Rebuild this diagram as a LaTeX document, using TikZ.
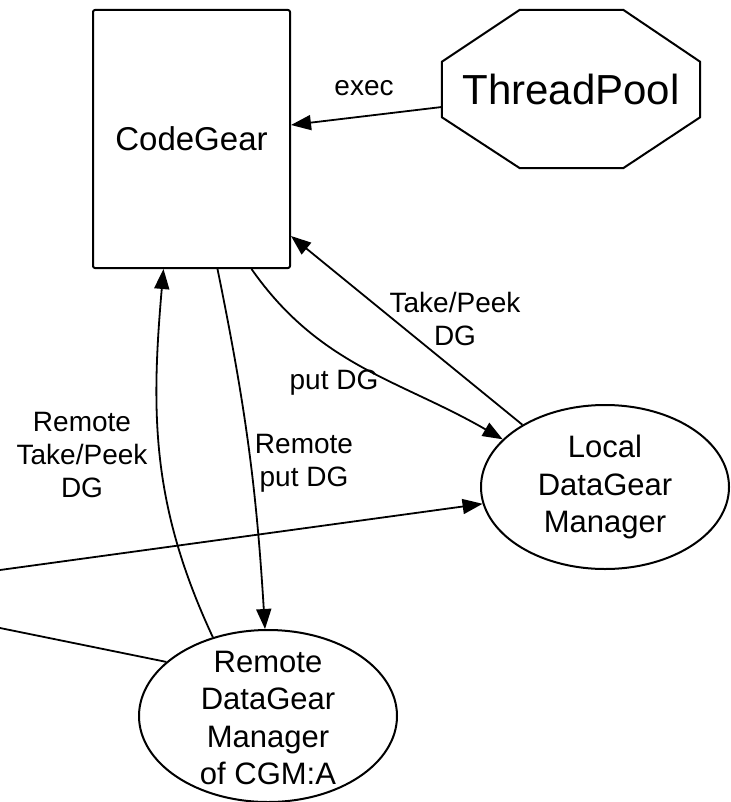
\documentclass[tikz,border=0pt]{standalone}
\usepackage{fontspec}
\setmainfont{Liberation Sans}
\usetikzlibrary{arrows.meta,shapes.geometric}
\begin{document}
\begin{tikzpicture}[x=1pt,y=-1pt,
  shapeline/.style={draw=black,line width=2pt,line join=round},
  conn/.style={draw=black,line width=1.8pt},
  arr/.style={conn,-{Triangle[length=20pt,width=15pt]}},
  lbl/.style={font=\fontsize{28}{33}\selectfont,align=center,inner sep=0pt},
  elltext/.style={font=\fontsize{31}{37.5}\selectfont,align=center,inner sep=0pt},
  ell/.style={shapeline,ellipse,inner sep=0pt}]
\useasboundingbox (0,0) rectangle (730,802);
% nodes
\node[shapeline,rounded corners=2pt,minimum width=197pt,minimum height=258pt,inner sep=0pt,
  font=\fontsize{33}{40}\selectfont] (cg) at (191.5,139) {CodeGear};
\node[minimum width=258pt,minimum height=158pt,inner sep=0pt,
  font=\fontsize{42}{50}\selectfont] (tp) at (571,89) {ThreadPool};
\draw[shapeline] ([xshift=78pt]tp.north west) -- ([xshift=-77pt]tp.north east)
  -- ([yshift=-52pt]tp.north east) -- ([yshift=51pt]tp.south east)
  -- ([xshift=-77pt]tp.south east) -- ([xshift=78pt]tp.south west)
  -- ([yshift=51pt]tp.south west) -- ([yshift=-52pt]tp.north west) -- cycle;
\node[ell,minimum width=248pt,minimum height=164pt] (ldm) at (605,487) {};
\node[elltext] (ldmtext) at (ldm.center) {Local\\DataGear\\Manager};
\node[ell,minimum width=258pt,minimum height=172pt] (rdm) at (268,716) {};
\node[elltext] (rdmtext) at (268,718) {Remote\\DataGear\\Manager\\of CGM:A};
\coordinate (src1) at (0,570);
\coordinate (src2) at (0,628);
% connectors
\draw[arr] ([yshift=-18pt]tp.west) -- ([yshift=14pt]cg.east);
\draw[arr] (ldm.143) -- ([yshift=33pt]cg.south east);
\draw[arr] ([xshift=60pt]cg.south) to[out=-55,in=150] (ldm.155);
\draw[arr] ([xshift=26pt]cg.south) to[bend left=4] ([xshift=-3pt]rdm.north);
\draw[arr] (rdm.125) to[out=115,in=-95] ([xshift=-28pt]cg.south);
\draw[arr] (src1) -- (ldm);
\draw[conn] (src2) -- (rdm.152);
% labels
\node[lbl] (lexec) at (364,88) {exec};
\node[lbl] (ltp) at (455,319) {Take/Peek\\DG};
\node[lbl] (lput) at (334,383) {put DG};
\node[lbl] (lrput) at (304,463) {Remote\\put DG};
\node[lbl] (lrtp) at (82,455) {Remote\\Take/Peek\\DG};
\end{tikzpicture}
\end{document}
